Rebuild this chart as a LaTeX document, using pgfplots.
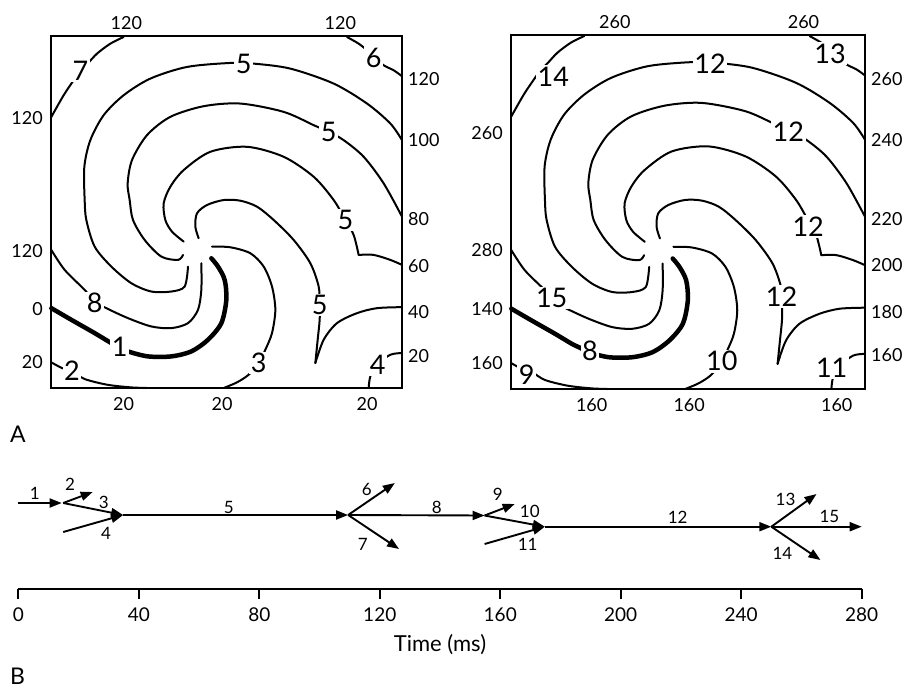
\documentclass[border=0pt]{standalone}
\usepackage{fontspec}
\setmainfont{Lato}
\usepackage{pgfplots}
\usepackage{pgfplotstable}
\pgfplotsset{compat=1.18}
\usetikzlibrary{arrows.meta}

% contour lines, in reference pixel units (x to the right, y downwards)
\pgfplotstableread{
x y
370 110
330 130
290 160
262 190
240 212
220 240
190 285
152 352
}\cseven
\pgfplotstableread{
x y
1040 110
1075 130
1100 150
1120 170
1150 195
1180 210
1205 228
}\csix
\pgfplotstableread{
x y
1205 420
1170 370
1100 310
1000 250
870 205
760 190
690 188
560 200
450 235
370 285
310 345
270 420
252 500
253 600
258 660
283 740
333 800
393 850
453 875
513 875
553 860
563 800
}\ca
\pgfplotstableread{
x y
1205 650
1150 550
1090 470
1030 420
985 395
940 375
850 335
720 310
610 318
510 350
440 405
395 480
382 550
388 600
398 660
433 720
483 770
533 780
548 765
}\cb
\pgfplotstableread{
x y
550 725
515 695
495 660
490 610
510 560
550 510
630 455
740 440
850 470
940 530
1000 600
1035 660
1060 705
1075 765
}\cc
\pgfplotstableread{
x y
1075 765
1120 765
1170 780
1205 795
}\ccc
\pgfplotstableread{
x y
595 715
585 680
590 640
620 615
670 600
720 602
770 620
820 660
880 720
930 790
955 860
958 915
958 960
952 1020
945 1090
}\ci
\pgfplotstableread{
x y
945 1090
970 1020
1010 970
1070 940
1130 925
1205 922
}\ccusp
\pgfplotstableread{
x y
603 790
603 870
593 930
563 970
513 985
453 980
383 955
318 925
283 905
253 870
193 810
153 750
}\ceight
\pgfplotstableread{
x y
633 775
653 800
673 840
678 900
663 970
623 1020
573 1055
513 1070
443 1070
383 1055
358 1042
333 1030
283 1000
213 960
153 925
}\cone
\pgfplotstableread{
x y
635 740
690 742
750 760
790 800
815 860
825 930
815 1000
795 1050
775 1090
745 1125
710 1148
670 1165
}\cthree
\pgfplotstableread{
x y
153 1088
185 1105
215 1115
253 1138
320 1155
390 1163
440 1165
}\ctwo
\pgfplotstableread{
x y
1205 1060
1170 1065
1130 1095
1110 1130
1105 1165
}\cfour

\tikzset{
  clab/.style={fill=white, inner sep=1.5pt, font=\fontsize{27}{27}\selectfont},
  alab/.style={font=\fontsize{17}{17}\selectfont},
}
\pgfplotsset{
  panel/.style={
    scale only axis, anchor=north west,
    xmin=152, xmax=1205, ymin=107, ymax=1165, y dir=reverse,
    axis line style={line width=2.2pt}, major tick length=0pt,
    ticklabel style={font=\fontsize{18}{18}\selectfont},
    xticklabel style={inner sep=3pt}, yticklabel style={inner sep=3pt},
    clip=false,
  },
  mainpanel/.style={panel,
    xticklabel style={yshift=-6pt}, yticklabel style={xshift=-5pt}},
  toppanel/.style={panel, axis line style={draw=none},
    xticklabel pos=right, yticklabel pos=right,
    xticklabel style={yshift=3pt}, yticklabel style={xshift=3pt}},
  ctr/.style={black, line width=2pt, no markers, line join=round, line cap=round},
  arr/.style={black, line width=1.9pt, no markers, -{Triangle[length=12pt,width=9pt]}},
  /pgf/number format/assume math mode=true,
}
\newcommand{\drawcontours}{%
  \addplot[ctr, smooth] table {\cseven};
  \addplot[ctr, smooth] table {\csix};
  \addplot[ctr, smooth] table {\ca};
  \addplot[ctr, smooth] table {\cb};
  \addplot[ctr, smooth] table {\cc};
  \addplot[ctr, smooth] table {\ccc};
  \addplot[ctr, smooth] table {\ci};
  \addplot[ctr, smooth] table {\ccusp};
  \addplot[ctr, smooth] table {\ceight};
  \addplot[ctr, smooth, line width=4.5pt] table {\cone};
  \addplot[ctr, smooth] table {\cthree};
  \addplot[ctr, smooth] table {\ctwo};
  \addplot[ctr, smooth] table {\cfour};
}

\begin{document}
\begin{tikzpicture}
\path[use as bounding box] (0pt,0pt) rectangle (904pt,-690pt);

% ---------------- Panel A, left ----------------
\begin{axis}[mainpanel, at={(51pt,-36pt)}, width=351pt, height=352pt,
  xtick={370,665,1100}, xticklabels={20,20,20},
  ytick={355,752,928,1088}, yticklabels={120,120,0,20}]
\drawcontours
\node[clab] at (axis cs:240,212) {7};
\node[clab] at (axis cs:730,190) {5};
\node[clab] at (axis cs:1120,172) {6};
\node[clab] at (axis cs:985,395) {5};
\node[clab] at (axis cs:1035,660) {5};
\node[clab] at (axis cs:958,915) {5};
\node[clab] at (axis cs:283,910) {8};
\node[clab] at (axis cs:358,1042) {1};
\node[clab] at (axis cs:215,1112) {2};
\node[clab] at (axis cs:775,1090) {3};
\node[clab] at (axis cs:1132,1095) {4};
\end{axis}
\begin{axis}[toppanel, at={(51pt,-36pt)}, width=351pt, height=352pt,
  xtick={378,1020}, xticklabels={120,120},
  ytick={237,420,658,797,937,1068}, yticklabels={120,100,80,60,40,20}]
\end{axis}

% ---------------- Panel A, right ----------------
\begin{axis}[mainpanel, at={(511pt,-35pt)}, width=354pt, height=354pt,
  xtick={392,682,1121}, xticklabels={160,160,160},
  ytick={399,751,926,1087}, yticklabels={260,280,140,160}]
\drawcontours
\node[clab] at (axis cs:278,231) {14};
\node[clab] at (axis cs:744,192) {12};
\node[clab] at (axis cs:1101,162) {13};
\node[clab] at (axis cs:977,396) {12};
\node[clab] at (axis cs:1036,679) {12};
\node[clab] at (axis cs:957,888) {12};
\node[clab] at (axis cs:273,893) {15};
\node[clab] at (axis cs:387,1052) {8};
\node[clab] at (axis cs:199,1122) {9};
\node[clab] at (axis cs:779,1082) {10};
\node[clab] at (axis cs:1106,1102) {11};
\end{axis}
\begin{axis}[toppanel, at={(511pt,-35pt)}, width=354pt, height=354pt,
  xtick={461,1022}, xticklabels={260,260},
  ytick={238,420,657,796,935,1065}, yticklabels={260,240,220,200,180,160}]
\end{axis}

\node[anchor=base west, inner sep=0pt, font=\fontsize{23}{23}\selectfont] at (10pt,-442pt) {A};
\node[anchor=base west, inner sep=0pt, font=\fontsize{23}{23}\selectfont] at (10pt,-684pt) {B};

% ---------------- Panel B ----------------
\begin{axis}[at={(18.3pt,-589pt)}, anchor=south west, scale only axis,
  width=843.4pt, height=109pt,
  xmin=0, xmax=280, ymin=-589, ymax=-480,
  axis x line*=bottom, axis y line=none,
  x axis line style={line width=2.2pt},
  xtick={0,40,...,280}, tick align=outside, major tick length=10pt,
  major tick style={line width=2.2pt, black},
  ticklabel style={font=\fontsize{19}{19}\selectfont},
  xticklabel style={yshift=-5pt},
  xlabel={Time (ms)}, xlabel style={font=\fontsize{22}{22}\selectfont, yshift=-6pt},
  clip=false]
\addplot[arr] coordinates {(0,-503) (14.4,-503)};
\addplot[arr] coordinates {(14.9,-503) (24.7,-492)};
\addplot[arr] coordinates {(14.9,-503) (34.8,-515)};
\addplot[arr] coordinates {(14.9,-532) (34.8,-515)};
\addplot[arr] coordinates {(34.8,-515) (109.5,-515)};
\addplot[arr] coordinates {(109.5,-515) (125,-483)};
\addplot[arr] coordinates {(109.5,-515) (126.4,-549)};
\addplot[arr] coordinates {(109.5,-515) (154.8,-515.5)};
\addplot[arr] coordinates {(154.8,-515.5) (164.8,-504)};
\addplot[arr] coordinates {(154.8,-515.5) (174.8,-526.7)};
\addplot[arr] coordinates {(154.8,-544) (174.8,-526.7)};
\addplot[arr] coordinates {(174.8,-526.7) (250,-526.7)};
\addplot[arr] coordinates {(250,-526.7) (265,-494)};
\addplot[arr] coordinates {(250,-526.7) (266.3,-560)};
\addplot[arr] coordinates {(250,-526.7) (280,-526.7)};
\node[alab] at (axis cs:5.5,-493) {1};
\node[alab] at (axis cs:17.2,-484) {2};
\node[alab] at (axis cs:28.4,-502) {3};
\node[alab] at (axis cs:29.1,-533) {4};
\node[alab] at (axis cs:69.9,-507) {5};
\node[alab] at (axis cs:115.7,-489) {6};
\node[alab] at (axis cs:114.4,-544) {7};
\node[alab] at (axis cs:138.9,-507) {8};
\node[alab] at (axis cs:159.2,-494) {9};
\node[alab] at (axis cs:169.8,-511) {10};
\node[alab] at (axis cs:169.1,-544) {11};
\node[alab] at (axis cs:218.9,-517) {12};
\node[alab] at (axis cs:254.7,-499) {13};
\node[alab] at (axis cs:253.7,-553) {14};
\node[alab] at (axis cs:269.3,-516) {15};
\end{axis}
\end{tikzpicture}
\end{document}
